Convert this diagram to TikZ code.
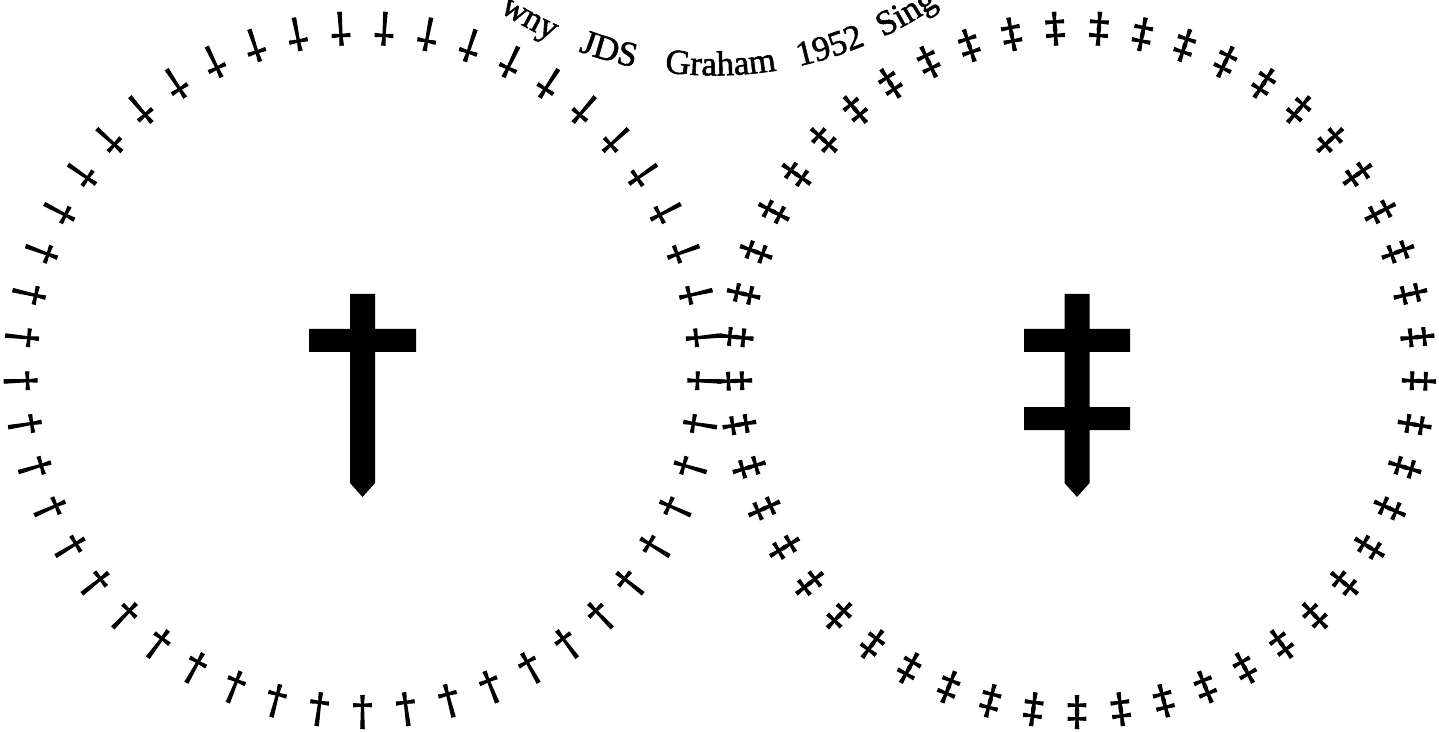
\documentclass[tikz,border=0pt]{standalone}
\usepackage{fontspec}
\usetikzlibrary{decorations.text,calc}
\newfontfamily\wordserif{Liberation Serif}[FakeBold=1.5]
\newfontfamily\dagserif{DejaVu Serif}[FakeBold=2.5]
\newcommand\arcwordfont{\wordserif\fontsize{17.5pt}{20pt}\selectfont}
\begin{document}
\begin{tikzpicture}[x=0.5pt,y=0.5pt,
  dag/.style={inner sep=0pt, font=\dagserif\fontsize{20pt}{22pt}\selectfont},
  bigcross/.style={fill=black, draw=none},
  arcword/.style={decorate, decoration={text along path, text align=center, text={|\arcwordfont|#1}}}]
\useasboundingbox (0,-732) rectangle (1439,0);
\clip (0,-732) rectangle (1439,0);
\coordinate (L) at (362.5,-370);
\coordinate (R) at (1077,-370);
\coordinate (C) at (714,315.5);
% rings of daggers
\foreach \k in {0,...,48}{
  \pgfmathsetmacro\ang{-90+(360/49)*\k}
  \node[dag, rotate=\ang+90] (l\k) at ($(L)+(\ang:342)$) {\textdagger};
  \node[dag, rotate=\ang+90] (r\k) at ($(R)+(\ang:342)$) {\textdaggerdbl};
}
% big dagger
\fill[bigcross] (350,-294) -- (375,-294) -- (375,-329) -- (416,-329) -- (416,-352)
  -- (375,-352) -- (375,-483) -- (362.5,-497) -- (350,-483) -- (350,-352)
  -- (309,-352) -- (309,-329) -- (350,-329) -- cycle;
% big double dagger
\fill[bigcross] (1064.5,-294) -- (1089.5,-294) -- (1089.5,-329) -- (1130,-329) -- (1130,-352)
  -- (1089.5,-352) -- (1089.5,-407) -- (1130,-407) -- (1130,-430) -- (1089.5,-430)
  -- (1089.5,-483) -- (1077,-497) -- (1064.5,-483) -- (1064.5,-430) -- (1024,-430)
  -- (1024,-407) -- (1064.5,-407) -- (1064.5,-352) -- (1024,-352) -- (1024,-329)
  -- (1064.5,-329) -- cycle;
% text along the arc
\path[arcword={wny}] ($(C)+(-133.9:391)$) arc[start angle=-133.9, end angle=-103.9, radius=391];
\path[arcword={JDS}] ($(C)+(-121:391)$) arc[start angle=-121, end angle=-91, radius=391];
\path[arcword={Graham}] ($(C)+(-104:391)$) arc[start angle=-104, end angle=-74, radius=391];
\path[arcword={1952}] ($(C)+(-87.3:391)$) arc[start angle=-87.3, end angle=-57.3, radius=391];
\path[arcword={Sing}] ($(C)+(-74.7:391)$) arc[start angle=-74.7, end angle=-44.7, radius=391];
\end{tikzpicture}
\end{document}
